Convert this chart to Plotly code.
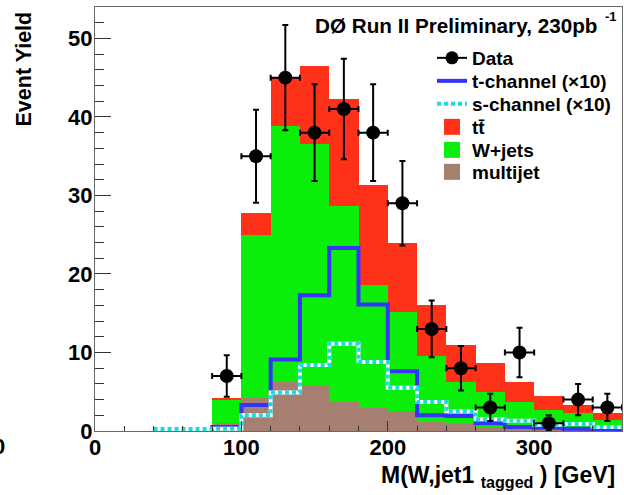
import numpy as np
import plotly.graph_objects as go

# Histogram binning: 20 GeV bins from 40 to 360 GeV
bin_width = 20
bin_low = list(range(40, 360, 20))

# Stacked backgrounds (events per bin)
multijet = [0, 0, 1.0, 4.2, 6.3, 5.8, 3.7, 2.9, 2.5, 1.1, 0.9, 0.55, 0.5, 0.4, 0.3, 0.3]
wjets = [0, 0, 2.9, 20.8, 32.6, 30.7, 25.0, 15.7, 12.6, 8.4, 5.4, 4.45, 3.2, 2.3, 2.0, 1.1]
ttbar = [0, 0, 0.3, 2.8, 6.2, 10.0, 13.6, 12.7, 8.9, 6.6, 4.7, 3.6, 2.6, 1.8, 1.0, 0.9]

# Single-top signals, scaled by 10
t_channel = [0, 0, 0.5, 3.3, 9.1, 17.3, 23.3, 16.1, 7.6, 2.0, 1.9, 1.0, 0.5, 0.4, 0.3, 0.2]
s_channel = [0.25, 0.25, 0.3, 2.0, 4.9, 8.4, 11.1, 8.8, 5.5, 3.7, 2.5, 1.5, 1.3, 0.8, 0.9, 0.5]

# Observed data
data_x = [90, 110, 130, 150, 170, 190, 210, 230, 250, 270, 290, 310, 330, 350]
data_y = [7, 35, 45, 38, 41, 38, 29, 13, 8, 3, 10, 1, 4, 3]

x_ticks = [0, 100, 200, 300]
y_ticks = [0, 10, 20, 30, 40, 50]

FONT = "Liberation Sans, Arial, Helvetica, sans-serif"
RED = "#ff3219"
GREEN = "#0aee0a"
BROWN = "#a3836e"
BLUE = "#3434fa"
CYAN = "#1adcdc"

W, H = 624, 495
M_L, M_R, M_T, M_B = 95, 2, 7, 64
PW, PH = W - M_L - M_R, H - M_T - M_B


def px(x):
    """Canvas pixel x -> plot-area paper fraction."""
    return (x - M_L) / PW


def py(y):
    """Canvas pixel y (from top) -> plot-area paper fraction."""
    return (H - M_B - y) / PH


centers = [lo + bin_width / 2 for lo in bin_low]
edges = bin_low + [bin_low[-1] + bin_width]


def steps(vals):
    return list(vals) + [vals[-1]]


fig = go.Figure()

fig.add_trace(go.Bar(
    x=centers, y=multijet, width=bin_width, name="multijet", showlegend=False,
    marker=dict(color=BROWN, line=dict(width=0),
                pattern=dict(shape=".", fgcolor="#b8688a", bgcolor=BROWN,
                             size=4, solidity=0.25)),
))
fig.add_trace(go.Bar(
    x=centers, y=wjets, width=bin_width, name="W+jets", showlegend=False,
    marker=dict(color=GREEN, line=dict(width=0)),
))
fig.add_trace(go.Bar(
    x=centers, y=ttbar, width=bin_width, name="tt\u0304", showlegend=False,
    marker=dict(color=RED, line=dict(width=0)),
))

fig.add_trace(go.Scatter(
    x=edges, y=steps(t_channel), mode="lines", line_shape="hv",
    line=dict(color=BLUE, width=4), name="t-channel (\u00d710)", legend="legend2",
))
# white underlay so the gaps of the dotted line read as white
fig.add_trace(go.Scatter(
    x=edges, y=steps(s_channel), mode="lines", line_shape="hv",
    line=dict(color="white", width=4), showlegend=False, hoverinfo="skip",
))
fig.add_trace(go.Scatter(
    x=edges, y=steps(s_channel), mode="lines", line_shape="hv",
    line=dict(color=CYAN, width=4, dash="4px,3px"), name="s-channel (\u00d710)",
    legend="legend3",
))

fig.add_trace(go.Scatter(
    x=data_x, y=data_y, mode="markers", showlegend=False, cliponaxis=False,
    marker=dict(color="black", size=14),
    error_x=dict(type="constant", value=bin_width / 2, color="black", thickness=2, width=3),
    error_y=dict(type="data", array=list(np.sqrt(data_y)), color="black", thickness=2, width=3),
))

# legend-only entries (data symbol with its horizontal bar, filled boxes)
fig.add_trace(go.Scatter(
    x=[None], y=[None], mode="lines+markers", name="Data", legend="legend",
    marker=dict(color="black", size=13), line=dict(color="black", width=2),
))
for name, color, leg in [("tt\u0304", RED, "legend4"), ("W+jets", GREEN, "legend5"),
                         ("multijet", BROWN, "legend6")]:
    fig.add_trace(go.Scatter(
        x=[None], y=[None], mode="markers", name=name, legend=leg,
        marker=dict(color=color, size=16, symbol="square"),
    ))

axis_common = dict(
    showgrid=False, zeroline=False, showline=True, linecolor="#6a6a6a",
    linewidth=1, mirror=True, ticks="inside", tickcolor="#333333", tickwidth=1,
    tickfont=dict(family=FONT, size=22, color="black", weight="bold"),
    ticklabelstandoff=-3, automargin=False,
)
fig.update_xaxes(
    range=[0, 360], tickvals=x_ticks, ticklen=10,
    minor=dict(dtick=20, ticks="inside", ticklen=5, tickcolor="#333333"),
    **axis_common,
)
fig.update_yaxes(
    range=[0, 54], tickvals=y_ticks, ticklen=16,
    minor=dict(dtick=2, ticks="inside", ticklen=9, tickcolor="#333333"),
    **axis_common,
)

legend_font = dict(family=FONT, size=19, color="black", weight="bold")
legend_rows = [55, 78, 101, 124, 147, 169]
legends = {}
for i, row in enumerate(legend_rows):
    key = "legend" if i == 0 else f"legend{i + 1}"
    legends[key] = dict(
        x=px(432), y=py(row - 16), xanchor="left", yanchor="top",
        xref="paper", yref="paper", font=legend_font,
        bgcolor="rgba(0,0,0,0)", borderwidth=0,
    )

bold = dict(family=FONT, color="black", weight="bold")

fig.update_layout(
    width=W, height=H,
    margin=dict(l=M_L, r=M_R, t=M_T, b=M_B, autoexpand=False),
    barmode="stack", bargap=0,
    plot_bgcolor="white", paper_bgcolor="white",
    showlegend=True,
    **legends,
    annotations=[
        dict(text="D\u00d8 Run II Preliminary, 230pb",
             x=px(313), y=py(25), xref="paper", yref="paper",
             xanchor="left", yanchor="middle", showarrow=False,
             font=dict(size=20.7, **bold)),
        dict(text="-1",
             x=px(603), y=py(16), xref="paper", yref="paper",
             xanchor="left", yanchor="middle", showarrow=False,
             font=dict(size=13, **bold)),
        dict(text="Event Yield", textangle=-90,
             x=px(24), y=py(10), xref="paper", yref="paper",
             xanchor="center", yanchor="top", showarrow=False,
             font=dict(size=21.5, **bold)),
        dict(text="M(W,jet1 <sub>tagged</sub> ) [GeV]",
             x=px(617), y=py(476), xref="paper", yref="paper",
             xanchor="right", yanchor="middle", showarrow=False,
             font=dict(size=23, **bold)),
        dict(text="0", x=px(7), y=py(446), xref="paper", yref="paper",
             xanchor="right", yanchor="middle", showarrow=False,
             font=dict(size=22, **bold)),
    ],
)

fig.write_html("out.html")
